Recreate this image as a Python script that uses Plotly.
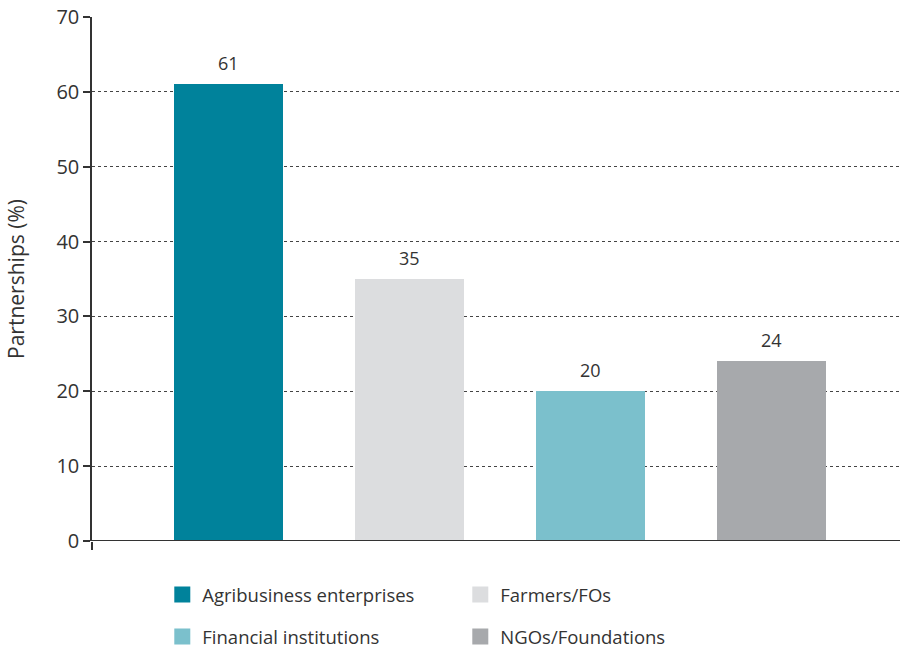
import plotly.graph_objects as go

categories = ["Agribusiness enterprises", "Farmers/FOs", "Financial institutions", "NGOs/Foundations"]
values = [61, 35, 20, 24]
colors = ["#00829B", "#DCDDDF", "#7BC0CC", "#A7A9AC"]
legend_rows = ["legend", "legend", "legend2", "legend2"]
y_ticks = [0, 10, 20, 30, 40, 50, 60, 70]

FONT = "Open Sans"
x_pos = list(range(len(categories)))

fig = go.Figure()
fig.add_trace(go.Bar(
    x=x_pos, y=values, marker=dict(color=colors, line=dict(width=0)),
    width=0.6, showlegend=False, hoverinfo="skip",
))
for name, col, lg in zip(categories, colors, legend_rows):
    fig.add_trace(go.Scatter(
        x=[None], y=[None], mode="markers", name=name, legend=lg,
        marker=dict(symbol="square", size=16, color=col),
    ))

for xi, v in zip(x_pos, values):
    fig.add_annotation(x=xi, y=v, text=str(v), showarrow=False,
                       yanchor="bottom", yshift=7,
                       font=dict(family=FONT, size=18, color="#333333"))

legend_common = dict(orientation="h", xanchor="left", yanchor="middle",
                     font=dict(family=FONT, size=18.5, color="#333333"),
                     entrywidth=253, itemsizing="trace", bgcolor="rgba(0,0,0,0)",
                     borderwidth=0)

fig.update_layout(
    width=902, height=649,
    margin=dict(l=92, r=2, t=17, b=108, autoexpand=False),
    plot_bgcolor="white", paper_bgcolor="white",
    font=dict(family=FONT, color="#333333"),
    bargap=0,
    xaxis=dict(range=[-0.754, 3.71], showgrid=False, zeroline=False, automargin=False,
               showline=False, tickvals=[-0.754], ticktext=[""],
               ticks="outside", ticklen=8, tickwidth=1.5, tickcolor="#333333"),
    yaxis=dict(range=[0, 70], tickvals=y_ticks, showgrid=True, automargin=False,
               gridcolor="#444444", griddash="dot", gridwidth=1,
               zeroline=False, showline=True, linecolor="#333333", linewidth=1.5,
               ticks="outside", ticklen=7, tickwidth=1.5, tickcolor="#333333",
               tickfont=dict(family=FONT, size=20, color="#333333"),
               title=dict(text="Partnerships (%)", font=dict(family=FONT, size=21, color="#333333"),
                          standoff=26)),
    legend=dict(x=0.087, y=-0.103, **legend_common),
    legend2=dict(x=0.087, y=-0.183, **legend_common),
)
# x axis baseline
fig.add_shape(type="line", xref="paper", yref="y", x0=0, x1=1, y0=0, y1=0,
              line=dict(color="#333333", width=2))

fig.write_html("out.html",
               config={"displayModeBar": False},
               post_script="document.body.style.margin='0';document.body.style.padding='0';"
                           "document.body.style.overflow='hidden';"
                           "document.documentElement.style.overflow='hidden';")
